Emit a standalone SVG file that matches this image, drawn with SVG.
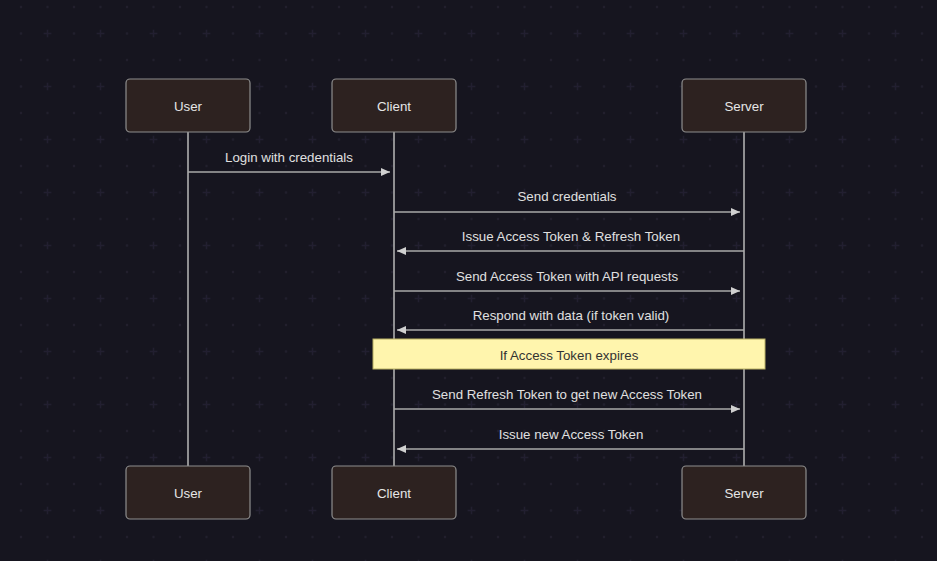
<svg xmlns="http://www.w3.org/2000/svg" width="937" height="561" viewBox="0 0 937 561">
<defs>
<pattern id="grid" x="21" y="7" width="53" height="53" patternUnits="userSpaceOnUse">
<circle cx="0" cy="0" r="1.2" fill="#211f2d"/>
<circle cx="26.5" cy="0" r="1.2" fill="#211f2d"/>
<circle cx="53" cy="0" r="1.2" fill="#211f2d"/>
<circle cx="0" cy="26.5" r="1.2" fill="#211f2d"/>
<circle cx="53" cy="26.5" r="1.2" fill="#211f2d"/>
<circle cx="0" cy="53" r="1.2" fill="#211f2d"/>
<circle cx="26.5" cy="53" r="1.2" fill="#211f2d"/>
<circle cx="53" cy="53" r="1.2" fill="#211f2d"/>
<path d="M22.7 26.5h7.6M26.5 22.7v7.6" stroke="#221f30" stroke-width="1.4"/>
</pattern>
<marker id="ah" viewBox="0 0 9 8" refX="9" refY="4" markerWidth="9" markerHeight="8" markerUnits="userSpaceOnUse" orient="auto">
<path d="M0 0L9 4L0 8z" fill="#d0d0d0"/>
</marker>
<style>
.actor rect{fill:#2d2220;stroke:#8e8e8e;stroke-width:1.2}
.actor text{font-family:"Liberation Sans",Arial,sans-serif;font-size:13.3px;fill:#e6e6e6;text-anchor:middle;dominant-baseline:central}
.life{stroke:#b8b8b8;stroke-width:1.5}
.msg{stroke:#a8a8a8;stroke-width:1.4;marker-end:url(#ah)}
.mt{font-family:"Liberation Sans",Arial,sans-serif;font-size:13.3px;fill:#e0e0e0;text-anchor:middle}
.note rect{fill:#fff5ad;stroke:#b8b064;stroke-width:1}
.note text{font-family:"Liberation Sans",Arial,sans-serif;font-size:13.3px;fill:#333;text-anchor:middle;dominant-baseline:central}
</style>
</defs>
<rect width="937" height="561" fill="#16151f"/>
<rect width="937" height="561" fill="url(#grid)"/>
<g id="lifelines">
<line class="life" x1="188" y1="132" x2="188" y2="466"/>
<line class="life" x1="394" y1="132" x2="394" y2="466"/>
<line class="life" x1="744" y1="132" x2="744" y2="466"/>
</g>
<g id="actor-user-top" class="actor"><rect x="126" y="79" width="124" height="53" rx="4"/><text x="188" y="106">User</text></g>
<g id="actor-client-top" class="actor"><rect x="332" y="79" width="124" height="53" rx="4"/><text x="394" y="106">Client</text></g>
<g id="actor-server-top" class="actor"><rect x="682" y="79" width="124" height="53" rx="4"/><text x="744" y="106">Server</text></g>
<g id="actor-user-bottom" class="actor"><rect x="126" y="466" width="124" height="53" rx="4"/><text x="188" y="493">User</text></g>
<g id="actor-client-bottom" class="actor"><rect x="332" y="466" width="124" height="53" rx="4"/><text x="394" y="493">Client</text></g>
<g id="actor-server-bottom" class="actor"><rect x="682" y="466" width="124" height="53" rx="4"/><text x="744" y="493">Server</text></g>
<g id="messages">
<line class="msg" x1="188" y1="172" x2="390" y2="172"/>
<text class="mt" x="289" y="162">Login with credentials</text>
<line class="msg" x1="394" y1="212" x2="740" y2="212"/>
<text class="mt" x="567" y="201">Send credentials</text>
<line class="msg" x1="744" y1="251" x2="397" y2="251"/>
<text class="mt" x="571" y="241">Issue Access Token &amp; Refresh Token</text>
<line class="msg" x1="394" y1="291" x2="740" y2="291"/>
<text class="mt" x="567" y="281">Send Access Token with API requests</text>
<line class="msg" x1="744" y1="330" x2="397" y2="330"/>
<text class="mt" x="571" y="320">Respond with data (if token valid)</text>
<line class="msg" x1="394" y1="409" x2="740" y2="409"/>
<text class="mt" x="567" y="399">Send Refresh Token to get new Access Token</text>
<line class="msg" x1="744" y1="449" x2="397" y2="449"/>
<text class="mt" x="571" y="439">Issue new Access Token</text>
</g>
<g id="note-expires" class="note"><rect x="373" y="339" width="392" height="30"/><text x="569" y="355">If Access Token expires</text></g>
</svg>
